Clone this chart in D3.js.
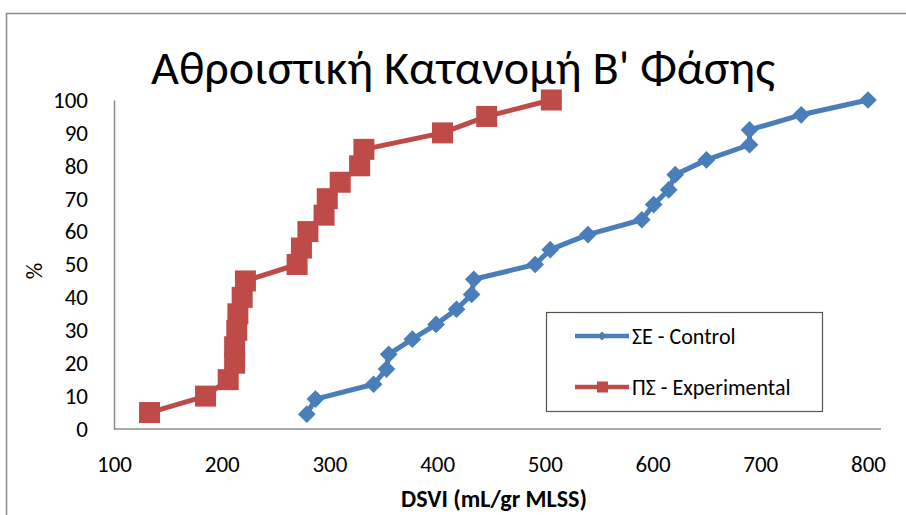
<!DOCTYPE html>
<html>
<head>
<meta charset="utf-8">
<script src="https://cdn.jsdelivr.net/npm/d3@7"></script>
<style>
  html, body { margin: 0; padding: 0; background: #fff; }
  svg { display: block; }
  text { font-family: Carlito, Calibri, "Open Sans", sans-serif; fill: #000; }
</style>
</head>
<body>
<svg id="chart" width="906" height="515"></svg>
<script>
// Cumulative distribution of DSVI, phase B
const titleText = "Αθροιστική Κατανομή Β' Φάσης";
const xTitle = "DSVI (mL/gr MLSS)";
const yTitle = "%";

const xTicks = [100, 200, 300, 400, 500, 600, 700, 800];
const yTicks = [0, 10, 20, 30, 40, 50, 60, 70, 80, 90, 100];

// ΣΕ - Control (22 samples)
const controlName = "ΣΕ - Control";
const controlDSVI = [279, 287, 341, 353, 355, 377, 399, 418, 432, 434, 491,
                     505, 540, 590, 601, 615, 621, 650, 690, 690, 738, 800];
const controlPct = [4.5, 9.1, 13.6, 18.2, 22.7, 27.3, 31.8, 36.4, 40.9, 45.5, 50,
                    54.5, 59.1, 63.6, 68.2, 72.7, 77.3, 81.8, 86.4, 90.9, 95.5, 100];

// ΠΣ - Experimental (20 samples)
const expName = "ΠΣ - Experimental";
const expDSVI = [133, 185, 206, 212, 212, 214, 215, 219, 222, 270,
                 274, 280, 295, 298, 310, 328, 332, 405, 446, 506];
const expPct = [5, 10, 15, 20, 25, 30, 35, 40, 45, 50,
                55, 60, 65, 70, 75, 80, 85, 90, 95, 100];

const blue = "#4a7ebb";
const red = "#be4b48";

const svg = d3.select("#chart");

// outer chart frame
svg.append("rect")
  .attr("x", 6.5).attr("y", 13.5)
  .attr("width", 1000).attr("height", 600)
  .attr("fill", "#fff")
  .attr("stroke", "#8c8c8c").attr("stroke-width", 1.5);

const x = d3.scaleLinear().domain([100, 800]).range([114, 868]);
const y = d3.scaleLinear().domain([0, 100]).range([429, 100]);

// title
svg.append("text")
  .attr("x", 463).attr("y", 84)
  .attr("text-anchor", "middle")
  .attr("font-size", 47)
  .attr("textLength", 624)
  .attr("lengthAdjust", "spacingAndGlyphs")
  .text(titleText);

// axes
const gx = svg.append("g")
  .attr("transform", `translate(0,${y(0)})`)
  .call(d3.axisBottom(x).tickValues(xTicks).tickSize(0).tickPadding(27).tickFormat(d3.format("d")));
gx.select(".domain").remove();
gx.selectAll("text").attr("font-size", 23).style("font-family", null);

svg.append("line")
  .attr("x1", x(100)).attr("x2", x(800) + 13)
  .attr("y1", y(0)).attr("y2", y(0))
  .attr("stroke", "#8c8c8c").attr("stroke-width", 1.5);

const gy = svg.append("g")
  .attr("transform", `translate(${x(100)},0)`)
  .call(d3.axisLeft(y).tickValues(yTicks).tickSize(0).tickPadding(26).tickFormat(d3.format("d")));
gy.select(".domain").attr("stroke", "#8c8c8c").attr("stroke-width", 1.5);
gy.selectAll("text").attr("font-size", 23).style("font-family", null);
svg.selectAll(".tick text").attr("fill", "#000");

svg.append("text")
  .attr("x", x(450) + 3).attr("y", 507)
  .attr("text-anchor", "middle")
  .attr("font-size", 24).attr("font-weight", "bold")
  .text(xTitle);

svg.append("text")
  .attr("transform", `translate(42,${y(48)}) rotate(-90)`)
  .attr("text-anchor", "middle")
  .attr("font-size", 23)
  .text(yTitle);

// series
const controlData = controlDSVI.map((v, i) => ({ x: v, y: controlPct[i] }));
const expData = expDSVI.map((v, i) => ({ x: v, y: expPct[i] }));

const line = d3.line().x(d => x(d.x)).y(d => y(d.y));

svg.append("path").datum(controlData)
  .attr("d", line).attr("fill", "none")
  .attr("stroke", blue).attr("stroke-width", 5).attr("stroke-linejoin", "round");
svg.append("path").datum(expData)
  .attr("d", line).attr("fill", "none")
  .attr("stroke", red).attr("stroke-width", 5).attr("stroke-linejoin", "round");

const diamond = d3.symbol().type(d3.symbolDiamond2).size(200);
svg.append("g").selectAll("path").data(controlData).join("path")
  .attr("transform", d => `translate(${x(d.x)},${y(d.y)})`)
  .attr("d", diamond).attr("fill", blue);

svg.append("g").selectAll("rect").data(expData).join("rect")
  .attr("x", d => x(d.x) - 10.5).attr("y", d => y(d.y) - 10.5)
  .attr("width", 21).attr("height", 21).attr("fill", red);

// legend
const lg = svg.append("g");
lg.append("rect")
  .attr("x", 546.5).attr("y", 312.5).attr("width", 276).attr("height", 99)
  .attr("fill", "#fff").attr("stroke", "#55554a").attr("stroke-width", 1.2);

const legendItems = [
  { name: controlName, color: blue, shape: "diamond", ly: 336 },
  { name: expName, color: red, shape: "square", ly: 387 }
];
legendItems.forEach(item => {
  lg.append("line")
    .attr("x1", 575).attr("x2", 629).attr("y1", item.ly).attr("y2", item.ly)
    .attr("stroke", item.color).attr("stroke-width", 4.5);
  if (item.shape === "diamond") {
    lg.append("path")
      .attr("transform", `translate(602,${item.ly})`)
      .attr("d", d3.symbol().type(d3.symbolDiamond2).size(50)).attr("fill", item.color);
  } else {
    lg.append("rect")
      .attr("x", 597).attr("y", item.ly - 5.5).attr("width", 11).attr("height", 11)
      .attr("fill", item.color);
  }
  lg.append("text")
    .attr("x", 632).attr("y", item.ly).attr("dy", "0.36em")
    .attr("font-size", 22)
    .text(item.name);
});
</script>
</body>
</html>
